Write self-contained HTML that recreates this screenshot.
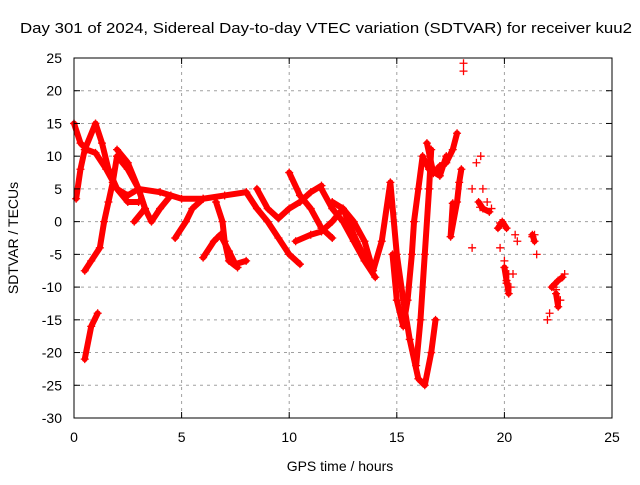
<!DOCTYPE html>
<html><head><meta charset="utf-8"><style>
body{margin:0;background:#fff}
svg text{font-family:"Liberation Sans",sans-serif;font-size:14px;fill:#000}
</style></head><body>
<svg id="c" width="640" height="480" viewBox="0 0 640 480">
<text x="20" y="33" textLength="612" lengthAdjust="spacingAndGlyphs" font-size="15" style="font-size:15px">Day 301 of 2024, Sidereal Day-to-day VTEC variation (SDTVAR) for receiver kuu2</text>
<g id="grid"></g>
<g id="marks"></g>
<rect x="74" y="58" width="538" height="360" fill="none" stroke="#000" stroke-width="1"/>
<g id="ticks"></g>
<text x="340" y="471" text-anchor="middle">GPS time / hours</text>
<text transform="translate(18,238) rotate(-90)" text-anchor="middle">SDTVAR / TECUs</text>
</svg>
<script>
const xTicks=[0,5,10,15,20,25];
const yTicks=[25,20,15,10,5,0,-5,-10,-15,-20,-25,-30];
const trackA=[[0,15],[0.3,12],[0.6,11],[1,10.5],[1.5,8],[2,5],[2.5,4],[3,5],[4,4.5],[5,3.5],[6,3.5],[7,4],[8,4.5]];
const trackB=[[0.1,3.5],[0.3,8],[0.5,11],[1,15],[1.3,12],[1.6,8],[2,5],[2.5,3],[3,3]];
const trackC=[[0.5,-7.5],[0.8,-6],[1.2,-4],[1.4,0],[1.6,3],[1.8,6],[2,10],[2.5,8],[3,5],[3.3,2],[3.6,0],[4,2],[4.5,4]];
const trackD=[[0.5,-21],[0.8,-16],[1.1,-14]];
const trackE=[[2,11],[2.5,9],[3,5],[3.3,2],[2.8,0]];
const trackF=[[4.7,-2.5],[5.2,0],[5.5,2],[6,3.5]];
const trackG=[[6,-5.5],[6.5,-3],[6.8,-2],[7.2,-4.5],[7.5,-6.5],[8,-6]];
const trackH=[[6.6,3],[6.9,0],[7,-3],[7.2,-6],[7.6,-7]];
const trackI=[[8,4.5],[8.5,2],[9,0],[9.5,-2.5],[10,-5],[10.5,-6.5]];
const trackJ=[[8.5,5],[9,2],[9.5,0.5],[10,2],[10.5,3],[11,4.5],[11.5,5.5]];
const trackK=[[10,7.5],[10.5,4],[11,2],[11.5,-1],[12,-2.5]];
const trackL=[[10.3,-3],[11,-2],[11.5,-1.5],[12,0],[12.5,2],[13,0],[13.5,-3],[13.9,-7.5],[14.3,-3],[14.7,6],[15,-5],[15.3,-12],[15.6,-18],[16,-24],[16.3,-25],[16.6,-20],[16.8,-15]];
const trackM=[[12,3],[12.5,2],[13,-2],[13.5,-5.5],[13.8,-7]];
const trackN=[[11.5,5],[12,2],[12.5,0],[13,-3],[13.5,-6],[14,-8.5]];
const trackO=[[14.8,-5],[15,-12],[15.3,-16],[15.5,-12],[15.7,-5],[15.8,0],[16,5],[16.2,10],[16.5,8],[17,7],[17.3,10]];
const trackP=[[15.9,-22],[16.1,-15],[16.3,-5],[16.5,5],[16.6,11]];
const trackQ=[[16.4,12],[16.7,7.4],[17,8.5],[17.3,9],[17.6,11],[17.8,13.5]];
const trackR=[[17.6,2.8],[17.5,-2.3],[17.8,3],[17.9,6],[18,8]];
const trackS=[[18.8,3],[19,2],[19.3,1.5]];
const trackT=[[19.7,-1],[19.9,0],[20.1,-1]];
const trackU=[[20,-7],[20.1,-9],[20.2,-11]];
const trackV=[[22.2,-10],[22.5,-9],[22.7,-8.5]];
const trackW=[[22.4,-11],[22.5,-13]];
const trackX=[[21.3,-2],[21.4,-3]];
const scatter=[[18.1,24.2],[18.1,23],[18.5,5],[18.5,-4],[18.7,9],[18.9,10],[18.87,2.2],[19,5],[19.2,3],[19.4,2],[19.8,-0.2],[19.8,-4],[20,-6],[20.1,-9.4],[20.2,-8],[20.3,-10],[20.4,-8],[20.5,-2],[20.6,-3],[21.3,-2.3],[21.4,-2],[21.5,-5],[22,-15],[22.1,-14],[22.3,-10],[22.4,-10.4],[22.6,-12],[22.8,-8]];
const tracks=[trackA,trackB,trackC,trackD,trackE,trackF,trackG,trackH,trackI,trackJ,trackK,trackL,trackM,trackN,trackO,trackP,trackQ,trackR,trackS,trackT,trackU,trackV,trackW,trackX];
const NS="http://www.w3.org/2000/svg";
function sx(h){return 74+(h-0)*538/25;}
function sy(v){return 58+(25-v)*360/55;}
const grid=document.getElementById('grid'),ticks=document.getElementById('ticks'),marks=document.getElementById('marks');
function mk(tag,parent,attrs){const e=document.createElementNS(NS,tag);for(const k in attrs)e.setAttribute(k,attrs[k]);parent.appendChild(e);return e;}
xTicks.forEach(t=>{const x=sx(t);
 if(t>0&&t<25){const g=mk('line',grid,{x1:x,x2:x,y1:58,y2:418,stroke:'#a0a0a0','stroke-dasharray':'3,4'});}
 const l=mk('line',ticks,{x1:x,x2:x,y1:418,y2:412,stroke:'#000'});
 const l2=mk('line',ticks,{x1:x,x2:x,y1:58,y2:64,stroke:'#000'});
 const tx=mk('text',ticks,{x:x,y:442,'text-anchor':'middle'});tx.textContent=t;});
yTicks.forEach(t=>{const y=sy(t);
 if(t<25&&t>-30){const g=mk('line',grid,{x1:74,x2:612,y1:y,y2:y,stroke:'#a0a0a0','stroke-dasharray':'3,4'});}
 const l=mk('line',ticks,{x1:74,x2:80,y1:y,y2:y,stroke:'#000'});
 const l2=mk('line',ticks,{x1:612,x2:606,y1:y,y2:y,stroke:'#000'});
 const tx=mk('text',ticks,{x:62,y:y+5,'text-anchor':'end'});tx.textContent=t;});
function plus(h,v){const x=sx(h),y=sy(v);
 const p=mk('path',marks,{d:`M${x-4} ${y}H${x+4}M${x} ${y-4}V${y+4}`,stroke:'#f00','stroke-width':1.3,fill:'none'});
 
 }
tracks.forEach(tr=>{
 const pl=mk('polyline',marks,{points:tr.map(p=>sx(p[0])+','+sy(p[1])).join(' '),fill:'none',stroke:'#f00','stroke-width':6,'stroke-linejoin':'round','stroke-linecap':'round'});
 
 
 tr.forEach(p=>plus(p[0],p[1]));});
scatter.forEach(p=>plus(p[0],p[1]));
</script>
</body></html>
